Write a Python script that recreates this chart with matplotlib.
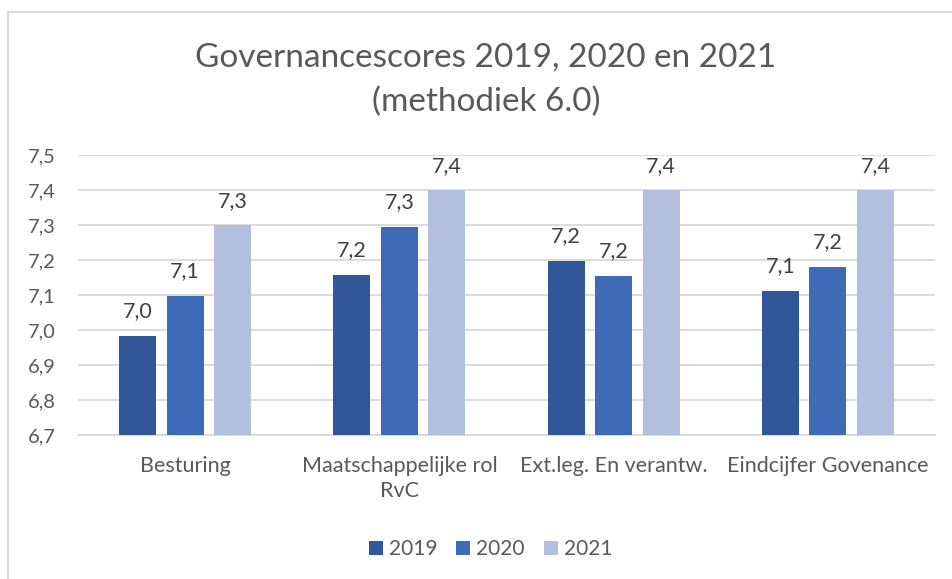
import matplotlib
matplotlib.use("Agg")
import matplotlib.pyplot as plt
from matplotlib.lines import Line2D
from matplotlib.patches import Patch
import numpy as np

plt.rcParams['font.family'] = ['Lato', 'DejaVu Sans']

categories = ["Besturing", "Maatschappelijke rol\nRvC", "Ext.leg. En verantw.", "Eindcijfer Govenance"]
years = ["2019", "2020", "2021"]
v2019 = [6.983, 7.158, 7.198, 7.111]
v2020 = [7.097, 7.294, 7.154, 7.181]
v2021 = [7.299, 7.399, 7.399, 7.399]
series = [v2019, v2020, v2021]
colors = ["#30579A", "#3F6AB7", "#B3BFDF"]
yticks = [6.7, 6.8, 6.9, 7.0, 7.1, 7.2, 7.3, 7.4, 7.5]

W, H = 952, 579
fig = plt.figure(figsize=(W / 100, H / 100), dpi=100)
ax = fig.add_axes([78 / W, (H - 435) / H, (935 - 78) / W, (435 - 155) / H])

text_col = "#595959"
grid_col = "#D9D9D9"

x = np.arange(len(categories))
spacing = 0.222
width = 0.173
for j, (vals, c) in enumerate(zip(series, colors)):
    pos = x + (j - 1) * spacing
    ax.bar(pos, [v - 6.7 for v in vals], bottom=6.7, width=width, color=c, zorder=3)
    for px, v in zip(pos, vals):
        ax.annotate(f"{v:.1f}".replace(".", ","), xy=(px, v), xytext=(0, 13.5),
                    textcoords="offset points", ha="center", va="baseline",
                    fontsize=15.5, color="#404040")

ax.set_xlim(-0.5, 3.5)
ax.set_ylim(6.7, 7.5)
ax.set_yticks(yticks)
ax.set_yticklabels([f"{t:.1f}".replace(".", ",") for t in yticks], fontsize=14.5, color=text_col)
ax.set_xticks(x)
ax.set_xticklabels(categories, fontsize=15.5, color=text_col, linespacing=1.3)
ax.tick_params(axis="both", length=0)
ax.tick_params(axis="y", pad=16)
ax.tick_params(axis="x", pad=15)
ax.yaxis.grid(True, color=grid_col, linewidth=1.3, zorder=0)
ax.set_axisbelow(True)
for s in ["top", "right", "left"]:
    ax.spines[s].set_visible(False)
ax.spines["bottom"].set_color(grid_col)
ax.spines["bottom"].set_linewidth(1.3)

fig.text(486 / W, 1 - 67 / H, "Governancescores 2019, 2020 en 2021", ha="center", va="baseline",
         fontsize=24, color=text_col)
fig.text(486 / W, 1 - 111 / H, "(methodiek 6.0)", ha="center", va="baseline",
         fontsize=24, color=text_col)

handles = [Patch(facecolor=c, edgecolor="none", label=y) for c, y in zip(colors, years)]
fig.legend(handles=handles, loc="center", bbox_to_anchor=(490.5 / W, 1 - 549 / H), ncol=3,
           frameon=False, fontsize=15, handlelength=0.67, handleheight=0.67,
           handletextpad=0.3, columnspacing=0.9, labelcolor=text_col)

fig.add_artist(Line2D([7.5 / W, 7.5 / W, 1.0], [0.0, 1 - 11.5 / H, 1 - 11.5 / H],
                      transform=fig.transFigure, color=grid_col, linewidth=1.5))

fig.savefig("out.png", dpi=100)
